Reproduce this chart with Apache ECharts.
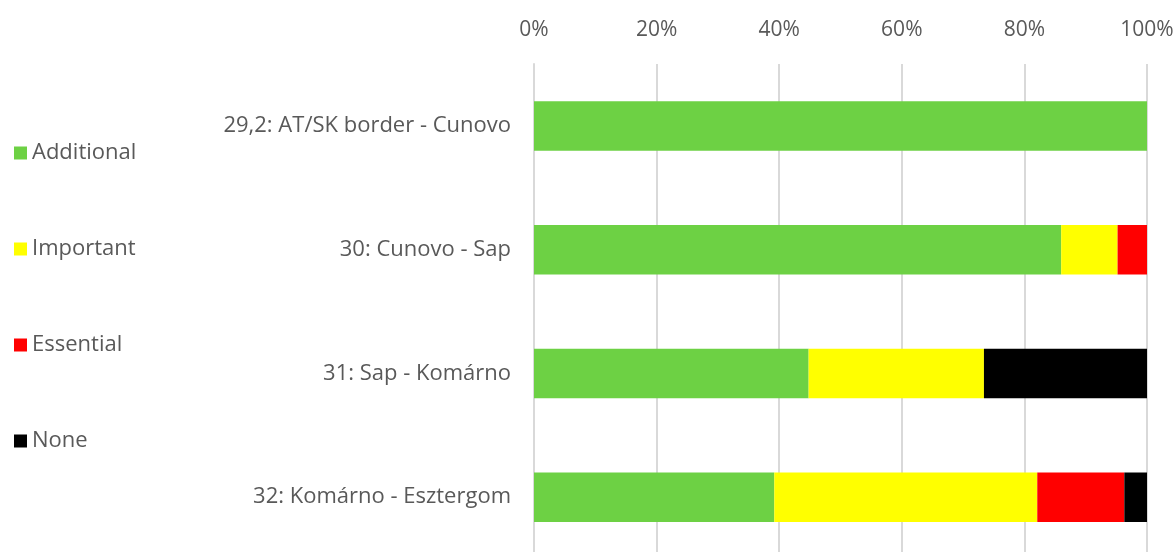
<!DOCTYPE html>
<html>
<head>
<meta charset="utf-8">
<script src="https://cdn.jsdelivr.net/npm/echarts@6/dist/echarts.min.js"></script>
<style>
  html, body { margin: 0; padding: 0; background: #fff; }
  #chart { width: 1175px; height: 552px; }
</style>
</head>
<body>
<div id="chart"></div>
<script>
// sections, top to bottom
const categories = [
  '29,2: AT/SK border - Cunovo',
  '30: Cunovo - Sap',
  '31: Sap - Komárno',
  '32: Komárno - Esztergom'
]
// share of each rating per section (%)
const additional = [100, 86.0, 44.8, 39.2]
const important = [0, 9.2, 28.6, 42.9]
const essential = [0, 4.8, 0, 14.2]
const none = [0, 0, 26.6, 3.7]
const xTicks = [0, 20, 40, 60, 80, 100]

const seriesDefs = [
  { name: 'Additional', data: additional, color: '#6dd144' },
  { name: 'Important', data: important, color: '#ffff00' },
  { name: 'Essential', data: essential, color: '#ff0000' },
  { name: 'None', data: none, color: '#000000' }
]

const font = '"Open Sans", sans-serif'
const chart = echarts.init(document.getElementById('chart'))

chart.setOption({
  animation: false,
  textStyle: { fontFamily: font },
  legend: {
    orient: 'vertical',
    left: 9,
    top: 137,
    itemWidth: 13,
    itemHeight: 13,
    itemGap: 74,
    icon: 'rect',
    textStyle: { fontSize: 22, lineHeight: 22, color: '#595959', fontFamily: font },
    data: seriesDefs.map(s => s.name)
  },
  grid: {
    left: 534,
    right: 28,
    top: 64,
    bottom: -7,
    outerBoundsMode: 'none',
    containLabel: false
  },
  xAxis: {
    type: 'value',
    position: 'top',
    min: xTicks[0],
    max: xTicks[xTicks.length - 1],
    interval: 20,
    axisLine: { show: false },
    axisTick: { show: false },
    axisLabel: {
      formatter: '{value}%',
      fontSize: 21,
      color: '#595959',
      margin: 23
    },
    splitLine: { lineStyle: { color: '#d9d9d9', width: 2 } }
  },
  yAxis: {
    type: 'category',
    inverse: true,
    data: categories,
    axisLine: { show: true, lineStyle: { color: '#d9d9d9', width: 2 } },
    axisTick: { show: false },
    axisLabel: { fontSize: 22, color: '#595959', margin: 23 }
  },
  series: seriesDefs.map(s => ({
    name: s.name,
    type: 'bar',
    stack: 'total',
    barWidth: '40%',
    itemStyle: { color: s.color },
    data: s.data
  }))
})
</script>
</body>
</html>
